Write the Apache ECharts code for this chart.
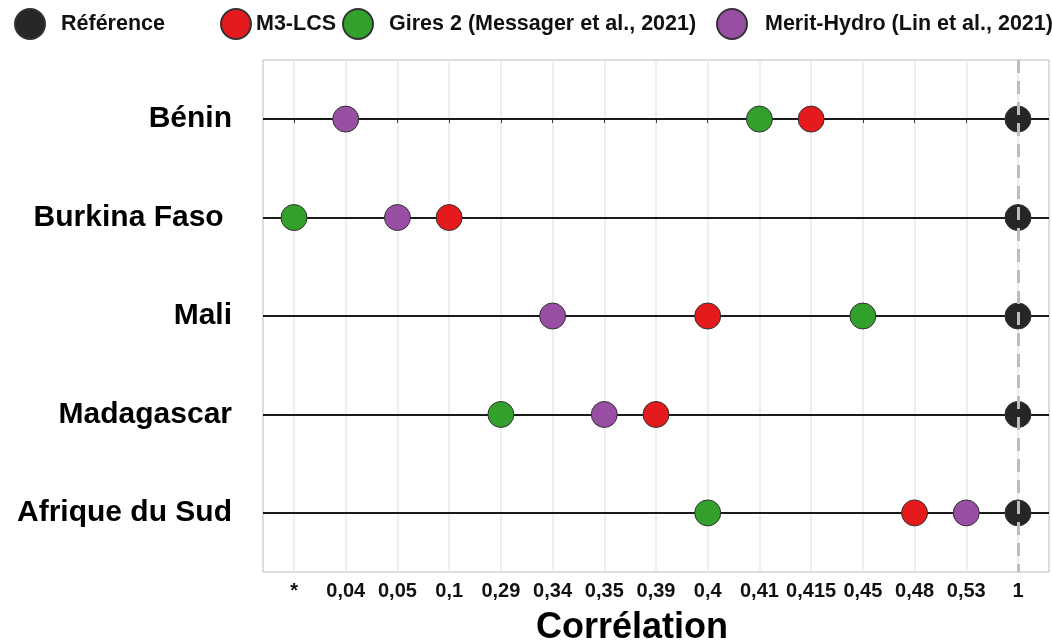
<!DOCTYPE html>
<html>
<head>
<meta charset="utf-8">
<script src="https://cdn.jsdelivr.net/npm/echarts@6/dist/echarts.min.js"></script>
<style>
html,body{margin:0;padding:0;background:#fff;}
#chart{width:1052px;height:644px;}
</style>
</head>
<body>
<div id="chart"></div>
<script>
// ---- data ----
const tickLabels = ["*","0,04","0,05","0,1","0,29","0,34","0,35","0,39","0,4","0,41","0,415","0,45","0,48","0,53","1"];
const countries = ["Bénin","Burkina Faso ","Mali","Madagascar","Afrique du Sud"];
const reference = ["1","1","1","1","1"];
const m3lcs = ["0,415","0,1","0,4","0,39","0,48"];
const gires2 = ["0,41","*","0,45","0,29","0,4"];
const meritHydro = ["0,04","0,05","0,34","0,35","0,53"];
const seriesNames = ["Référence","M3-LCS","Gires 2 (Messager et al., 2021)","Merit-Hydro (Lin et al., 2021)"];
const seriesColors = ["#262626","#e41a1c","#33a02c","#984ea3"];
const seriesValues = [reference, m3lcs, gires2, meritHydro];
const refLineLabel = "1";

const FONT = "'Liberation Sans', Arial, sans-serif";
const idx = v => tickLabels.indexOf(v);
const tickIdx = tickLabels.map((_, i) => i);
const rowIdx = countries.map((_, i) => i);

const chart = echarts.init(document.getElementById('chart'), null, {renderer: 'canvas'});

const scatterSeries = seriesNames.map((name, s) => ({
  name: name,
  type: 'scatter',
  symbol: 'circle',
  symbolSize: 26,
  z: 3,
  itemStyle: {color: seriesColors[s], borderColor: '#333', borderWidth: 1, opacity: 1},
  data: seriesValues[s].map((v, r) => [idx(v), r])
}));

const legendLefts = [14, 220, 342, 716];
const legendTextPad = [11, 0, 11, 13];
const legends = seriesNames.map((name, s) => ({
  data: [name],
  left: legendLefts[s],
  top: 8,
  padding: 0,
  icon: 'circle',
  itemWidth: 30,
  itemHeight: 30,
  selectedMode: false,
  textStyle: {fontFamily: FONT, fontWeight: 'bold', fontSize: 21.5, color: '#111', padding: [0, 0, 0, legendTextPad[s]]}
}));

const option = {
  animation: false,
  backgroundColor: '#fff',
  legend: legends,
  grid: {left: 263, right: 3, top: 60, bottom: 72, containLabel: false, outerBoundsMode: 'none',
         show: true, borderColor: '#bdbdbd', borderWidth: 1, backgroundColor: 'transparent'},
  xAxis: {
    type: 'value',
    min: -0.6,
    max: tickLabels.length - 1 + 0.6,
    name: 'Corrélation',
    nameLocation: 'middle',
    nameGap: 38,
    nameTextStyle: {fontFamily: FONT, fontWeight: 'bold', fontSize: 36, color: '#000', padding: [0, 48, 0, 0]},
    axisLine: {show: false},
    axisTick: {show: true, customValues: tickIdx, length: 4, lineStyle: {color: '#444'}},
    axisLabel: {customValues: tickIdx, formatter: v => tickLabels[Math.round(v)], fontFamily: FONT, fontWeight: 'bold', fontSize: 20, color: '#111', margin: 9},
    splitLine: {show: true, lineStyle: {color: '#e8e8e8', width: 1.5}}
  },
  yAxis: {
    type: 'value',
    inverse: true,
    min: -0.6,
    max: countries.length - 1 + 0.6,
    axisLine: {show: false},
    axisTick: {show: true, customValues: rowIdx, length: 4, lineStyle: {color: '#444'}},
    axisLabel: {customValues: rowIdx, formatter: v => countries[Math.round(v)], fontFamily: FONT, fontWeight: 'bold', fontSize: 30, color: '#000', margin: 31, verticalAlign: 'middle', padding: [0, 0, 13, 0]},
    splitLine: {show: false}
  },
  series: [
    {
      type: 'scatter',
      data: [],
      silent: true,
      markLine: {
        silent: true, symbol: 'none', z: 1,
        label: {show: false},
        lineStyle: {color: '#1a1a1a', width: 2, type: 'solid'},
        data: rowIdx.map(r => ({yAxis: r}))
      }
    },
    ...scatterSeries,
    {
      type: 'scatter',
      data: [],
      silent: true,
      markLine: {
        silent: true, symbol: 'none', z: 10,
        label: {show: false},
        lineStyle: {color: '#bdbdbd', width: 3, type: [13, 8]},
        data: [{xAxis: idx(refLineLabel)}]
      }
    }
  ]
};
chart.setOption(option);
</script>
</body>
</html>
